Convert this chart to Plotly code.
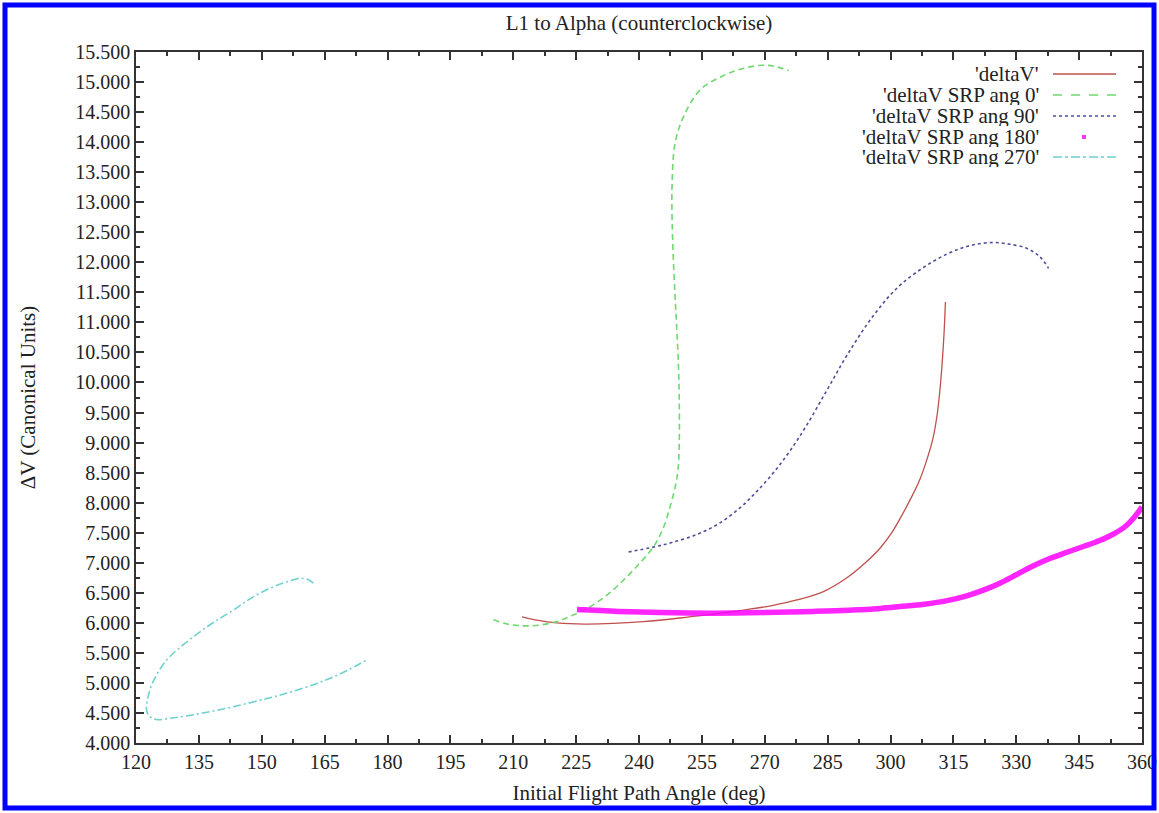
import plotly.graph_objects as go

# ---------------- data ----------------
dv_x = [212.1, 216.0, 220.4, 227.0, 233.8, 241.0, 249.8, 257.0, 265.7, 272.0, 277.7,
        284.0, 289.6, 294.0, 297.6, 300.3, 302.4, 304.7, 306.8, 308.7, 310.1, 311.1,
        311.8, 312.3, 312.8, 313.1]
dv_y = [6.10, 6.04, 6.00, 5.98, 5.99, 6.02, 6.08, 6.14, 6.22, 6.29, 6.38,
        6.52, 6.75, 7.00, 7.25, 7.50, 7.75, 8.05, 8.35, 8.72, 9.06, 9.45,
        9.88, 10.30, 10.85, 11.34]

srp0_x = [205.3, 208.5, 212.4, 216.0, 220.4, 224.0, 228.4, 232.5, 236.3, 240.0, 243.5,
          245.8, 247.4, 248.6, 249.3, 249.6, 249.6, 249.4, 249.0, 248.6, 248.2, 247.9,
          247.9, 248.6, 250.6, 254.6, 260.2, 265.0, 269.7, 273.0, 275.7]
srp0_y = [6.05, 5.98, 5.95, 5.96, 6.02, 6.12, 6.27, 6.47, 6.71, 6.98, 7.27,
          7.58, 7.93, 8.25, 8.54, 9.00, 9.71, 10.30, 10.90, 11.45, 12.05, 12.70,
          13.31, 13.98, 14.42, 14.87, 15.11, 15.23, 15.28, 15.25, 15.19]

srp90_x = [237.5, 243.4, 248.0, 253.8, 259.0, 264.2, 268.0, 272.1, 276.0, 280.1, 284.9,
           289.6, 296.0, 302.3, 310.3, 316.3, 320.5, 324.6, 328.5, 332.6, 335.5, 337.7]
srp90_y = [7.18, 7.26, 7.34, 7.47, 7.65, 7.92, 8.18, 8.50, 8.86, 9.30, 9.88,
           10.45, 11.12, 11.62, 12.02, 12.22, 12.30, 12.33, 12.30, 12.23, 12.10, 11.90]

srp180_x = [225.2, 235.0, 245.0, 257.7, 270.0, 281.6, 290.0, 297.6, 302.3, 308.0, 313.5,
            318.2, 322.0, 326.1, 330.0, 334.1, 338.0, 341.9, 346.0, 349.9, 353.0, 356.3,
            358.2, 360.0]
srp180_y = [6.22, 6.19, 6.17, 6.16, 6.17, 6.19, 6.21, 6.24, 6.27, 6.31, 6.37,
            6.45, 6.54, 6.66, 6.80, 6.95, 7.07, 7.17, 7.27, 7.37, 7.47, 7.62,
            7.76, 7.93]

srp270_x = [162.3, 161.0, 159.1, 155.5, 151.2, 147.0, 143.2, 139.0, 135.3, 131.0, 127.3,
            124.8, 123.3, 122.5, 123.3, 124.9, 129.0, 135.3, 143.0, 151.2, 157.0, 163.1,
            169.0, 175.0]
srp270_y = [6.66, 6.72, 6.74, 6.67, 6.55, 6.39, 6.21, 6.03, 5.85, 5.62, 5.38,
            5.12, 4.88, 4.55, 4.44, 4.39, 4.42, 4.49, 4.60, 4.74, 4.85, 4.99,
            5.16, 5.38]

series_names = ["'deltaV'", "'deltaV SRP ang 0'", "'deltaV SRP ang 90'",
                "'deltaV SRP ang 180'", "'deltaV SRP ang 270'"]
x_ticks = list(range(120, 361, 15))

# ---------------- styling ----------------
FONT = "Liberation Serif"
TXT = "#222222"
c_red = "#c0504d"
c_green = "#6fd86f"
c_blue = "#4f4f99"
c_mag = "#ff00ff"
c_cyan = "#6fd0d0"

fig = go.Figure()
fig.add_trace(go.Scatter(x=dv_x, y=dv_y, mode="lines", name=series_names[0],
                         line=dict(color=c_red, width=1.3, shape="spline")))
fig.add_trace(go.Scatter(x=srp0_x, y=srp0_y, mode="lines", name=series_names[1],
                         line=dict(color=c_green, width=1.6, dash="6px,4px", shape="spline")))
fig.add_trace(go.Scatter(x=srp90_x, y=srp90_y, mode="lines", name=series_names[2],
                         line=dict(color=c_blue, width=1.6, dash="3px,3px", shape="spline")))
fig.add_trace(go.Scatter(x=srp180_x, y=srp180_y, mode="lines", name=series_names[3],
                         line=dict(color=c_mag, width=5.5, shape="spline"), opacity=0.85))
fig.add_trace(go.Scatter(x=srp270_x, y=srp270_y, mode="lines", name=series_names[4],
                         line=dict(color=c_cyan, width=1.6, dash="8px,3px,2px,3px", shape="spline")))

W, H = 1159, 813
L, R, T, B = 136, 17, 52, 70
pw, ph = W - L - R, H - T - B

def px(xp):
    return (xp - L) / pw

def py(yp):
    return (H - B - yp) / ph

# custom legend (text right-aligned, sample on the right like gnuplot)
rows = [74, 95, 116, 137, 157]
styles = [(c_red, "solid", 1.5), (c_green, "dash", 1.6), (c_blue, "dot", 1.6),
          (None, None, None), (c_cyan, "dashdot", 1.6)]
annotations = []
shapes = []
for name, yr, st in zip(series_names, rows, styles):
    annotations.append(dict(x=px(1041), y=py(yr), xref="paper", yref="paper",
                            text=name, showarrow=False, xanchor="right", yanchor="middle",
                            height=20, valign="middle",
                            font=dict(family=FONT, size=21, color=TXT)))
    if st[0] is None:
        shapes.append(dict(type="rect", xref="paper", yref="paper",
                           x0=px(1082), x1=px(1086), y0=py(yr - 2), y1=py(yr + 2),
                           fillcolor=c_mag, line=dict(width=0), opacity=0.8))
    else:
        shapes.append(dict(type="line", xref="paper", yref="paper",
                           x0=px(1053), x1=px(1116), y0=py(yr), y1=py(yr),
                           line=dict(color=st[0], width=st[2], dash=st[1])))

# blue outer border
shapes.append(dict(type="rect", xref="paper", yref="paper",
                   x0=px(5), x1=px(1154), y0=py(808), y1=py(5),
                   line=dict(color="#0000ff", width=5), fillcolor="rgba(0,0,0,0)"))

axis_common = dict(showgrid=False, zeroline=False, showline=True, linecolor="#333333",
                   linewidth=1.5, mirror="ticks", ticks="inside", ticklen=8, tickwidth=1.5,
                   tickcolor="#333333", automargin=False,
                   tickfont=dict(family=FONT, size=20, color=TXT))

fig.update_layout(
    width=W, height=H, autosize=False,
    margin=dict(l=L, r=R, t=T, b=B),
    paper_bgcolor="white", plot_bgcolor="white",
    showlegend=False,
    title=dict(text="L1 to Alpha (counterclockwise)", xref="paper", x=0.5, xanchor="center",
               y=1 - 23 / H, yanchor="middle",
               font=dict(family=FONT, size=21, color=TXT)),
    xaxis=dict(range=[120, 360], tickvals=x_ticks,
               minor=dict(dtick=7.5, ticklen=4, ticks="inside", tickcolor="#333333", tickwidth=1.5),
               title=dict(text="Initial Flight Path Angle (deg)",
                          font=dict(family=FONT, size=21, color=TXT), standoff=14),
               **axis_common),
    yaxis=dict(range=[4, 15.5], dtick=0.5, tick0=4, tickformat=".3f",
               minor=dict(dtick=0.25, ticklen=4, ticks="inside", tickcolor="#333333", tickwidth=1.5),
               title=dict(text="ΔV (Canonical Units)",
                          font=dict(family=FONT, size=21, color=TXT), standoff=34),
               **axis_common),
    annotations=annotations,
    shapes=shapes,
)

fig.write_html("out.html",
               config={"responsive": False, "displayModeBar": False},
               post_script="document.body.style.margin='0';")
